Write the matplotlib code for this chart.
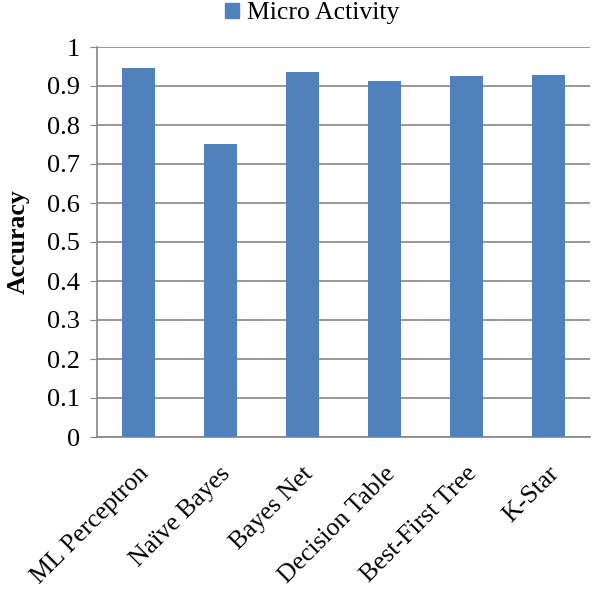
import matplotlib
matplotlib.use("Agg")
import matplotlib.pyplot as plt
import matplotlib.transforms as mtransforms
from matplotlib.patches import Patch

categories = ["ML Perceptron", "Naïve Bayes", "Bayes Net", "Decision Table", "Best-First Tree", "K-Star"]
accuracy = [0.945, 0.751, 0.937, 0.913, 0.925, 0.928]
yticks = [0, 0.1, 0.2, 0.3, 0.4, 0.5, 0.6, 0.7, 0.8, 0.9, 1.0]
ytick_labels = ["0", "0.1", "0.2", "0.3", "0.4", "0.5", "0.6", "0.7", "0.8", "0.9", "1"]

plt.rcParams['font.family'] = ['Liberation Serif', 'DejaVu Serif']

fig = plt.figure(figsize=(6.0, 5.94), dpi=100)
ax = fig.add_axes([97/600, 1-437/594, (590-97)/600, (437-47)/594])

color = "#4F81BD"
x = list(range(len(categories)))
ax.bar(x, accuracy, width=0.4, color=color, zorder=3)
ax.set_xlim(-0.5, len(categories) - 0.5)
ax.set_ylim(0, 1.0)
ax.set_yticks(yticks)
ax.set_yticklabels(ytick_labels, fontsize=19)
ax.yaxis.grid(True, color="#868686", linewidth=1.2, zorder=0)
ax.set_xticks(x)
ax.tick_params(axis="x", length=0, pad=24)
ax.tick_params(axis="y", length=5, color="#868686", pad=7, direction="out")
ax.set_xticklabels(categories, rotation=45, ha="right", va="center",
                   rotation_mode="anchor", fontsize=18.5)
offset = mtransforms.ScaledTranslation(7/100, 0, fig.dpi_scale_trans)
for lbl in ax.xaxis.get_majorticklabels():
    lbl.set_transform(lbl.get_transform() + offset)
for s in ["top", "right"]:
    ax.spines[s].set_visible(False)
for s in ["left", "bottom"]:
    ax.spines[s].set_color("#868686")
    ax.spines[s].set_linewidth(1.2)
ax.set_ylabel("Accuracy", fontsize=18.5, fontweight="bold", labelpad=13)

fig.legend(handles=[Patch(color=color, label="Micro Activity")], loc="upper center",
           bbox_to_anchor=(0.52, 1.035), frameon=False, fontsize=18.5,
           handlelength=0.55, handleheight=0.55, handletextpad=0.3)

fig.savefig("out.png", dpi=100)
